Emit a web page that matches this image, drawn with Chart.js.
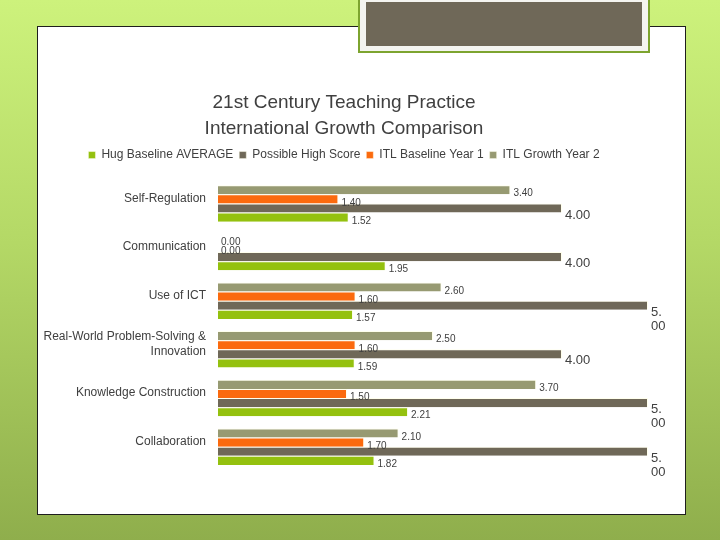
<!DOCTYPE html>
<html>
<head>
<meta charset="utf-8">
<script src="https://cdn.jsdelivr.net/npm/chart.js@4.4.1/dist/chart.umd.min.js"></script>
<style>
  html, body { margin: 0; padding: 0; }
  body {
    width: 720px; height: 540px; overflow: hidden; position: relative;
    background: linear-gradient(180deg, #cdf27c 0%, #b4d866 45%, #8fae4c 100%);
  }
  #panel {
    position: absolute; left: 37px; top: 26px; width: 647px; height: 487px;
    background: #fff; border: 1px solid #1e1e1e;
  }
  #box {
    position: absolute; left: 358px; top: -6px; width: 288px; height: 55px;
    background: #f4f4f0; border: 2px solid #7da42f;
  }
  #box div {
    position: absolute; left: 6px; top: 6px; right: 6px; bottom: 5px; background: #6f6858;
  }
  #growthChart { position: absolute; left: 0; top: 0; width: 720px; height: 540px; }
</style>
</head>
<body>
<div id="panel"></div>
<div id="box"><div></div></div>
<canvas id="growthChart" width="720" height="540"></canvas>
<script>
// categories, top to bottom
const categories = [
  'Self-Regulation',
  'Communication',
  'Use of ICT',
  ['Real-World Problem-Solving &', 'Innovation'],
  'Knowledge Construction',
  'Collaboration'
];

// series values
const itlGrowthYear2 = [3.40, 0.00, 2.60, 2.50, 3.70, 2.10];
const itlBaselineYear1 = [1.40, 0.00, 1.60, 1.60, 1.50, 1.70];
const possibleHighScore = [4.00, 4.00, 5.00, 4.00, 5.00, 5.00];
const hugBaselineAverage = [1.52, 1.95, 1.57, 1.59, 2.21, 1.82];

const textColor = '#404040';

// value labels at the end of each bar
const barLabels = {
  id: 'barLabels',
  afterDatasetsDraw(chart) {
    const ctx = chart.ctx;
    ctx.save();
    ctx.fillStyle = textColor;
    ctx.textAlign = 'left';
    ctx.textBaseline = 'middle';
    chart.data.datasets.forEach((ds, i) => {
      const big = ds.label === 'Possible High Score';
      ctx.font = (big ? '13px' : '10px') + ' "Liberation Sans", Arial, sans-serif';
      chart.getDatasetMeta(i).data.forEach((bar, j) => {
        const txt = ds.data[j].toFixed(2);
        const x = bar.x + 3;
        const y = bar.y + (big ? 7 : 4);
        if (x + ctx.measureText(txt).width > chart.width - 50) {
          // not enough room: wraps after the decimal point
          const parts = txt.split('.');
          ctx.fillText(parts[0] + '.', x, y);
          ctx.fillText(parts[1], x, y + 14);
        } else {
          ctx.fillText(txt, x, y);
        }
      });
    });
    ctx.restore();
  }
};

// extra space under the legend
const legendGap = {
  id: 'legendGap',
  beforeInit(chart) {
    const fit = chart.legend.fit;
    chart.legend.fit = function () {
      fit.bind(chart.legend)();
      this.height += 8;
    };
  }
};

const ctx = document.getElementById('growthChart').getContext('2d');
const growthChart = new Chart(ctx, {
  type: 'bar',
  data: {
    labels: categories,
    datasets: [
      { label: 'ITL Growth Year 2', data: itlGrowthYear2, backgroundColor: '#979a72' },
      { label: 'ITL Baseline Year 1', data: itlBaselineYear1, backgroundColor: '#fb6a0e' },
      { label: 'Possible High Score', data: possibleHighScore, backgroundColor: '#6f6858' },
      { label: 'Hug Baseline AVERAGE', data: hugBaselineAverage, backgroundColor: '#94c10f' }
    ]
  },
  options: {
    indexAxis: 'y',
    responsive: false,
    animation: false,
    devicePixelRatio: 1,
    layout: { padding: { left: 40, right: 72, top: 90, bottom: 69 } },
    datasets: {
      bar: {
        categoryPercentage: 0.75,
        barPercentage: 1,
        borderColor: 'rgba(255,255,235,0.9)',
        borderWidth: { top: 1, right: 1, bottom: 0, left: 0 }
      }
    },
    scales: {
      x: { display: false, min: 0, max: 5 },
      y: {
        grid: { display: false },
        border: { display: false },
        ticks: {
          color: textColor,
          padding: 4,
          labelOffset: -5,
          font: { family: '"Liberation Sans", Arial, sans-serif', size: 12 }
        },
        afterFit(scale) { scale.width = 178; }
      }
    },
    plugins: {
      title: {
        display: true,
        text: ['21st Century Teaching Practice', 'International Growth Comparison'],
        color: textColor,
        padding: { top: 0, bottom: 1 },
        font: { family: '"Liberation Sans", Arial, sans-serif', size: 19, weight: 'normal', lineHeight: 1.37 }
      },
      legend: {
        reverse: true,
        labels: {
          color: textColor,
          boxWidth: 7,
          boxHeight: 7,
          padding: 6,
          font: { family: '"Liberation Sans", Arial, sans-serif', size: 12 }
        }
      },
      tooltip: { enabled: false }
    }
  },
  plugins: [barLabels, legendGap]
});
</script>
</body>
</html>
